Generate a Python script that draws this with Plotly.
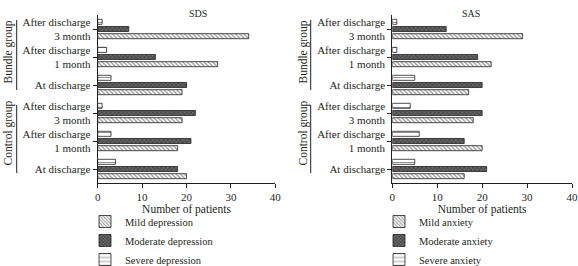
import plotly.graph_objects as go

# ---- data (bottom to top on the y axis) ----
groups = ["Control group", "Bundle group"]
periods = ["At discharge", "After discharge<br>1 month", "After discharge<br>3 month"]

sds_mild = [20, 18, 19, 19, 27, 34]
sds_moderate = [18, 21, 22, 20, 13, 7]
sds_severe = [4, 3, 1, 3, 2, 1]

sas_mild = [16, 20, 18, 17, 22, 29]
sas_moderate = [21, 16, 20, 20, 19, 12]
sas_severe = [5, 6, 4, 5, 1, 1]

x_ticks = [0, 10, 20, 30, 40]

keys = [f"{g}|{p}" for g in groups for p in periods]
labels = [p for g in groups for p in periods]

W, H = 578, 266
FONT = "Liberation Serif"
TXT = "#231f20"

def px_x(p):
    return p / W

def px_y(p):
    return 1 - p / H

styles = {
    "mild": dict(shape="\\", fgcolor="#231f20", bgcolor="white", size=3, solidity=0.4),
    "moderate": dict(shape="x", fgcolor="#1a1a1a", bgcolor="#6a6a6a", size=3, solidity=0.5),
    "severe": dict(shape="-", fgcolor="#231f20", bgcolor="white", size=5, solidity=0.2),
}

fig = go.Figure()

panels = [
    ("x", "y", "legend", "depression", [sds_mild, sds_moderate, sds_severe]),
    ("x2", "y2", "legend2", "anxiety", [sas_mild, sas_moderate, sas_severe]),
]
for xa, ya, lg, word, series in panels:
    for lvl, vals in zip(["Mild", "Moderate", "Severe"], series):
        fig.add_trace(go.Bar(
            x=vals, y=keys, orientation="h", xaxis=xa, yaxis=ya, legend=lg,
            name=f"{lvl} {word}",
            marker=dict(color="white", line=dict(color="#231f20", width=0.8),
                        pattern=styles[lvl.lower()]),
        ))

y_dom = [px_y(183), px_y(15)]
x1_dom = [px_x(97.7), px_x(275.3)]
x2_dom = [px_x(392.3), px_x(572)]

axis_common = dict(showline=True, linecolor=TXT, linewidth=1, ticks="outside",
                   ticklen=4, tickcolor=TXT, showgrid=False, zeroline=False,
                   tickfont=dict(family=FONT, size=11, color=TXT), automargin=False)

xa_common = dict(axis_common, range=[0, 40], tickvals=x_ticks,
                 title=dict(text="Number of patients", font=dict(family=FONT, size=11.5, color=TXT), standoff=1))
ya_common = dict(axis_common, type="category", categoryorder="array", categoryarray=keys,
                 tickmode="array", tickvals=keys, ticktext=labels, range=[-0.5, 5.5])

leg_common = dict(xanchor="left", yanchor="top",
                  font=dict(family=FONT, size=10.5, color=TXT), bgcolor="rgba(0,0,0,0)",
                  traceorder="normal", itemwidth=30, tracegroupgap=0)

fig.update_layout(
    width=W, height=H,
    margin=dict(l=0, r=0, t=0, b=0, pad=0, autoexpand=False),
    paper_bgcolor="white", plot_bgcolor="white",
    barmode="group", bargap=0.23, bargroupgap=0.3,
    xaxis=dict(xa_common, domain=x1_dom, anchor="y"),
    yaxis=dict(ya_common, domain=y_dom, anchor="x"),
    xaxis2=dict(xa_common, domain=x2_dom, anchor="y2"),
    yaxis2=dict(ya_common, domain=y_dom, anchor="x2"),
    legend=dict(leg_common, x=px_x(85), y=px_y(207)),
    legend2=dict(leg_common, x=px_x(379), y=px_y(207)),
    showlegend=True,
)

# panel titles
for dom, t in [(x1_dom, "SDS"), (x2_dom, "SAS")]:
    fig.add_annotation(text=t, x=(dom[0] + dom[1]) / 2, y=px_y(6), xref="paper", yref="paper",
                       showarrow=False, font=dict(family=FONT, size=10, color=TXT))

# group labels with vertical bars
group_spans = {"Bundle group": (20, 90, 52), "Control group": (105, 173, 133)}
for text_x, line_x in [(7.5, 16.7), (302.5, 310.7)]:
    for g, (y0, y1, yc) in group_spans.items():
        fig.add_shape(type="line", xref="paper", yref="paper",
                      x0=px_x(line_x), x1=px_x(line_x), y0=px_y(y0), y1=px_y(y1),
                      line=dict(color=TXT, width=1))
        fig.add_annotation(text=g, x=px_x(text_x), y=px_y(yc), xref="paper", yref="paper",
                           xanchor="center", yanchor="middle",
                           textangle=-90, showarrow=False,
                           font=dict(family=FONT, size=11.5, color=TXT))

fig.write_html("out.html", config={"displayModeBar": False},
               post_script="document.body.style.margin='0';document.body.style.padding='0';")
